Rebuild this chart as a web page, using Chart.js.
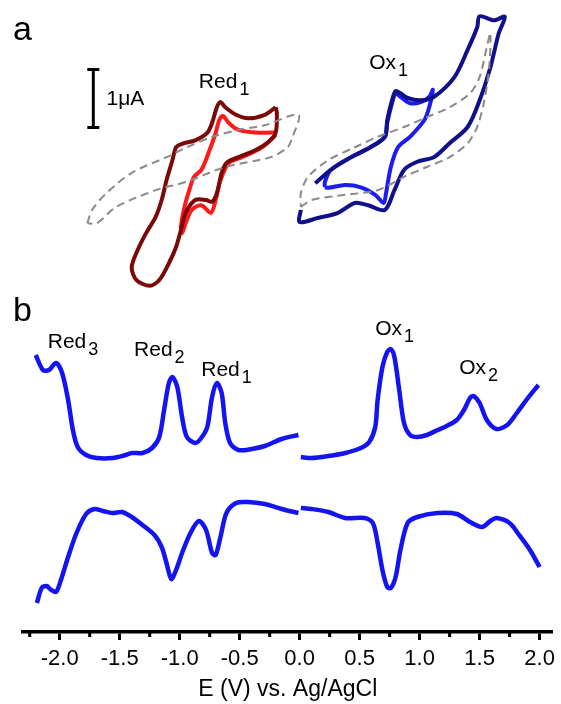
<!DOCTYPE html>
<html>
<head>
<meta charset="utf-8">
<script src="https://cdn.jsdelivr.net/npm/chart.js@4"></script>
<style>
  html, body { margin: 0; padding: 0; background: #fff; }
  #wrap { width: 561px; height: 704px; }
</style>
</head>
<body>
<div id="wrap"><canvas id="cvChart"></canvas></div>
<script>
// ---- data: potential E (V vs Ag/AgCl) and current ----
// panel a: cyclic voltammograms (current in uA)
const redCvDarkE = [-0.20,-0.29,-0.43,-0.53,-0.62,-0.66,-0.69,-0.73,-0.77,-0.87,-0.98,-1.03,-1.06,-1.11,-1.15,-1.20,-1.28,-1.35,-1.40,-1.36,-1.25,-1.17,-1.09,-1.03,-0.99,-0.95,-0.87,-0.78,-0.73,-0.69,-0.65,-0.61,-0.51,-0.37,-0.26,-0.20,-0.19,-0.20];
const redCvDarkI = [1.60,1.47,1.41,1.47,1.60,1.69,1.60,1.33,1.16,1.03,0.97,0.91,0.69,0.34,0.00,-0.29,-0.57,-0.86,-1.16,-1.38,-1.48,-1.38,-1.09,-0.81,-0.52,-0.22,0.00,0.00,-0.03,0.12,0.47,0.64,0.74,0.86,1.00,1.16,1.50,1.60];

const redCvE = [-0.19,-0.34,-0.51,-0.59,-0.64,-0.67,-0.70,-0.76,-0.82,-0.88,-0.92,-0.96,-0.99,-0.98,-0.95,-0.90,-0.82,-0.74,-0.70,-0.66,-0.59,-0.48,-0.32,-0.20];
const redCvI = [1.17,1.16,1.21,1.33,1.45,1.38,1.16,0.81,0.52,0.40,0.17,-0.12,-0.47,-0.57,-0.40,-0.17,-0.09,-0.22,0.00,0.34,0.64,0.74,0.90,1.12];

const blankLeftE = [-1.77,-1.73,-1.61,-1.40,-1.11,-0.95,-0.73,-0.51,-0.29,-0.01,-0.07,-0.10,-0.24,-0.62,-0.95,-1.20,-1.53,-1.69,-1.77];
const blankLeftI = [-0.40,-0.17,0.12,0.47,0.74,0.90,1.09,1.21,1.29,1.47,1.03,0.91,0.74,0.57,0.31,0.17,-0.12,-0.40,-0.40];

const oxCvDarkE = [0.01,0.00,0.15,0.32,0.46,0.57,0.71,0.79,0.87,0.98,1.12,1.25,1.40,1.50,1.59,1.66,1.71,1.62,1.50,1.48,1.40,1.29,1.12,1.01,0.90,0.84,0.80,0.77,0.73,0.71,0.59,0.43,0.26,0.13];
const oxCvDarkI = [-0.17,-0.38,-0.31,-0.22,-0.05,-0.09,-0.17,0.17,0.52,0.66,0.74,0.98,1.26,1.72,2.29,2.88,3.16,3.10,3.17,2.98,2.59,2.12,1.78,1.72,1.76,1.84,1.88,1.72,1.38,1.09,0.91,0.74,0.52,0.29];

const oxCvE = [0.21,0.24,0.38,0.51,0.63,0.70,0.72,0.76,0.82,0.92,1.04,1.08,1.11,1.08,1.01,0.92,0.84,0.80,0.77,0.73,0.71,0.59,0.43,0.26,0.21,0.21];
const oxCvI = [0.22,0.21,0.26,0.22,0.09,-0.05,0.12,0.57,0.91,1.09,1.38,1.60,1.90,1.78,1.69,1.67,1.78,1.84,1.67,1.33,1.09,0.91,0.74,0.52,0.31,0.22];

const blankRightE = [0.01,0.10,0.38,0.65,0.87,1.06,1.25,1.40,1.48,1.54,1.58,1.59,1.56,1.50,1.42,1.25,1.06,0.87,0.65,0.46,0.24,0.07,0.01,0.01];
const blankRightI = [-0.12,0.00,0.09,0.17,0.40,0.57,0.74,0.98,1.26,1.72,2.29,2.88,2.64,2.12,1.84,1.60,1.43,1.26,1.09,0.91,0.69,0.40,0.12,-0.12];

// 1 uA scale bar
const scaleBarE = [-1.77,-1.67,-1.72,-1.72,-1.77,-1.67];
const scaleBarI = [2.25,2.25,2.25,1.25,1.25,1.25];

// panel b: differential pulse voltammograms (arb. units)
const dpvRedFwdE = [-2.20,-2.14,-2.09,-2.03,-1.98,-1.93,-1.89,-1.85,-1.78,-1.69,-1.56,-1.45,-1.40,-1.31,-1.23,-1.17,-1.13,-1.09,-1.06,-1.02,-0.98,-0.94,-0.87,-0.82,-0.77,-0.73,-0.69,-0.65,-0.62,-0.58,-0.51,-0.40,-0.29,-0.15,-0.01];
const dpvRedFwdI = [10.5,9.0,9.0,9.7,8.7,6.0,3.0,1.3,0.5,0.2,0.2,0.5,0.7,0.7,1.2,2.3,5.0,7.7,8.3,7.3,4.3,2.3,1.7,2.2,3.3,6.3,7.7,6.7,3.7,1.7,1.0,1.1,1.4,2.1,2.5];

const dpvOxFwdE = [0.01,0.10,0.24,0.38,0.51,0.58,0.63,0.65,0.69,0.73,0.76,0.79,0.83,0.87,0.92,0.98,1.06,1.15,1.21,1.31,1.37,1.42,1.45,1.50,1.56,1.64,1.73,1.81,1.89,1.99];
const dpvOxFwdI = [0.3,0.2,0.4,0.7,1.2,1.8,3.3,6.0,9.3,10.8,11.1,10.3,7.0,3.7,2.5,2.3,2.5,3.0,3.3,4.0,5.0,6.2,6.4,5.7,4.0,3.1,3.5,4.7,6.0,7.5];

const dpvRedRevE = [-2.19,-2.15,-2.11,-2.07,-2.03,-1.99,-1.93,-1.86,-1.78,-1.71,-1.64,-1.56,-1.48,-1.40,-1.31,-1.21,-1.15,-1.11,-1.07,-1.03,-0.98,-0.91,-0.84,-0.78,-0.73,-0.70,-0.66,-0.61,-0.53,-0.43,-0.29,-0.15,-0.01];
const dpvRedRevI = [-14.3,-12.8,-12.6,-13.0,-13.2,-12.0,-9.7,-7.3,-5.4,-4.9,-5.1,-5.3,-5.2,-5.7,-6.5,-7.5,-8.7,-10.3,-11.9,-11.0,-9.3,-7.3,-6.1,-7.0,-9.3,-9.5,-7.7,-5.3,-4.3,-4.2,-4.4,-4.9,-5.3];

const dpvOxRevE = [0.01,0.10,0.24,0.38,0.54,0.61,0.65,0.69,0.73,0.76,0.80,0.84,0.90,0.98,1.15,1.31,1.42,1.52,1.59,1.64,1.75,1.83,1.92,2.00];
const dpvOxRevI = [-4.8,-4.9,-5.2,-5.8,-5.8,-6.3,-8.3,-11.0,-12.7,-12.8,-11.7,-9.0,-6.3,-5.7,-5.3,-5.4,-6.2,-6.7,-6.1,-5.8,-6.3,-7.5,-9.0,-10.7];

// x axis: labelled ticks and the minor ticks between them
const xTickValues = [-2.0, -1.5, -1.0, -0.5, 0.0, 0.5, 1.0, 1.5, 2.0];
const xMinorTicks = [-2.25, -1.75, -1.25, -0.75, -0.25, 0.25, 0.75, 1.25, 1.75];

const FONT = "'Liberation Sans', Arial, sans-serif";

// text labels (placed in data units)
const peakLabels = [
  { text: "a", e: -2.39, v: 2.93, axis: "yA", size: 34 },
  { text: "1\u03bcA", e: -1.61, v: 1.74, axis: "yA" },
  { text: "Red", sub: "1", e: -0.84, v: 2.03, axis: "yA" },
  { text: "Ox", sub: "1", e: 0.58, v: 2.36, axis: "yA" },
  { text: "b", e: -2.39, v: 14.8, axis: "yB", size: 34 },
  { text: "Red", sub: "3", e: -2.10, v: 11.8, axis: "yB" },
  { text: "Red", sub: "2", e: -1.38, v: 11.0, axis: "yB" },
  { text: "Red", sub: "1", e: -0.82, v: 9.0, axis: "yB" },
  { text: "Ox", sub: "1", e: 0.63, v: 13.1, axis: "yB" },
  { text: "Ox", sub: "2", e: 1.33, v: 9.2, axis: "yB" }
];

function pts(es, is) {
  return es.map((e, i) => ({ x: e, y: is[i] }));
}

function series(es, is, color, axis, extra) {
  return Object.assign({
    data: pts(es, is),
    yAxisID: axis,
    borderColor: color,
    borderWidth: 4,
    showLine: true,
    pointRadius: 0,
    tension: 0.3,
    fill: false
  }, extra || {});
}

const dashed = { borderWidth: 2, borderDash: [8, 5], tension: 0.3 };

// labels + minor ticks
const extrasPlugin = {
  id: "extras",
  afterDraw(chart) {
    const ctx = chart.ctx;
    const xs = chart.scales.x;
    ctx.save();
    ctx.fillStyle = "#000";
    ctx.textBaseline = "middle";
    ctx.textAlign = "left";
    peakLabels.forEach(l => {
      const px = xs.getPixelForValue(l.e);
      const py = chart.scales[l.axis].getPixelForValue(l.v);
      ctx.font = (l.size || 21) + "px " + FONT;
      ctx.fillText(l.text, px, py);
      if (l.sub) {
        const w = ctx.measureText(l.text).width;
        ctx.font = "18px " + FONT;
        ctx.fillText(l.sub, px + w + 2, py + 8);
      }
    });
    const bottom = chart.chartArea.bottom;
    ctx.strokeStyle = "#000";
    ctx.lineWidth = 3;
    xMinorTicks.forEach(v => {
      const px = xs.getPixelForValue(v);
      ctx.beginPath();
      ctx.moveTo(px, bottom);
      ctx.lineTo(px, bottom + 5);
      ctx.stroke();
    });
    ctx.restore();
  }
};

new Chart(document.getElementById("cvChart"), {
  type: "scatter",
  data: {
    datasets: [
      series(blankLeftE, blankLeftI, "#8a8a8a", "yA", dashed),
      series(blankRightE, blankRightI, "#8a8a8a", "yA", dashed),
      series(redCvDarkE, redCvDarkI, "#7a0a0a", "yA"),
      series(redCvE, redCvI, "#ff1a1a", "yA"),
      series(oxCvDarkE, oxCvDarkI, "#10108a", "yA"),
      series(oxCvE, oxCvI, "#1c1cf0", "yA"),
      series(scaleBarE, scaleBarI, "#000", "yA", { borderWidth: 3, tension: 0 }),
      series(dpvRedFwdE, dpvRedFwdI, "#1414f0", "yB", { borderWidth: 4.5 }),
      series(dpvOxFwdE, dpvOxFwdI, "#1414f0", "yB", { borderWidth: 4.5 }),
      series(dpvRedRevE, dpvRedRevI, "#1414f0", "yB", { borderWidth: 4.5 }),
      series(dpvOxRevE, dpvOxRevI, "#1414f0", "yB", { borderWidth: 4.5 })
    ]
  },
  options: {
    responsive: true,
    maintainAspectRatio: false,
    animation: false,
    events: [],
    layout: { padding: { left: 23, right: 5, top: 0, bottom: 0 } },
    plugins: { legend: { display: false }, tooltip: { enabled: false } },
    scales: {
      x: {
        type: "linear",
        position: "bottom",
        min: -2.306,
        max: 2.108,
        afterBuildTicks: scale => {
          scale.ticks = xTickValues.map(v => ({ value: v }));
        },
        // fixed axis band so the plot area ends where the reference axis is
        afterFit: scale => {
          scale.height = 72;
        },
        ticks: {
          color: "#000",
          padding: 6,
          font: { family: FONT, size: 22 },
          callback: v => v.toFixed(1)
        },
        grid: { drawOnChartArea: false, drawTicks: true, tickLength: 8, tickWidth: 3, tickColor: "#000" },
        border: { display: true, width: 3.5, color: "#000" },
        title: {
          display: true,
          text: "E (V) vs. Ag/AgCl",
          color: "#000",
          font: { family: FONT, size: 23, lineHeight: 1.0 },
          padding: { top: 6, bottom: 3 }
        }
      },
      yA: { display: false, min: -7.45, max: 3.45 },
      yB: { display: false, min: -17.2, max: 46.0 }
    }
  },
  plugins: [extrasPlugin]
});
</script>
</body>
</html>
